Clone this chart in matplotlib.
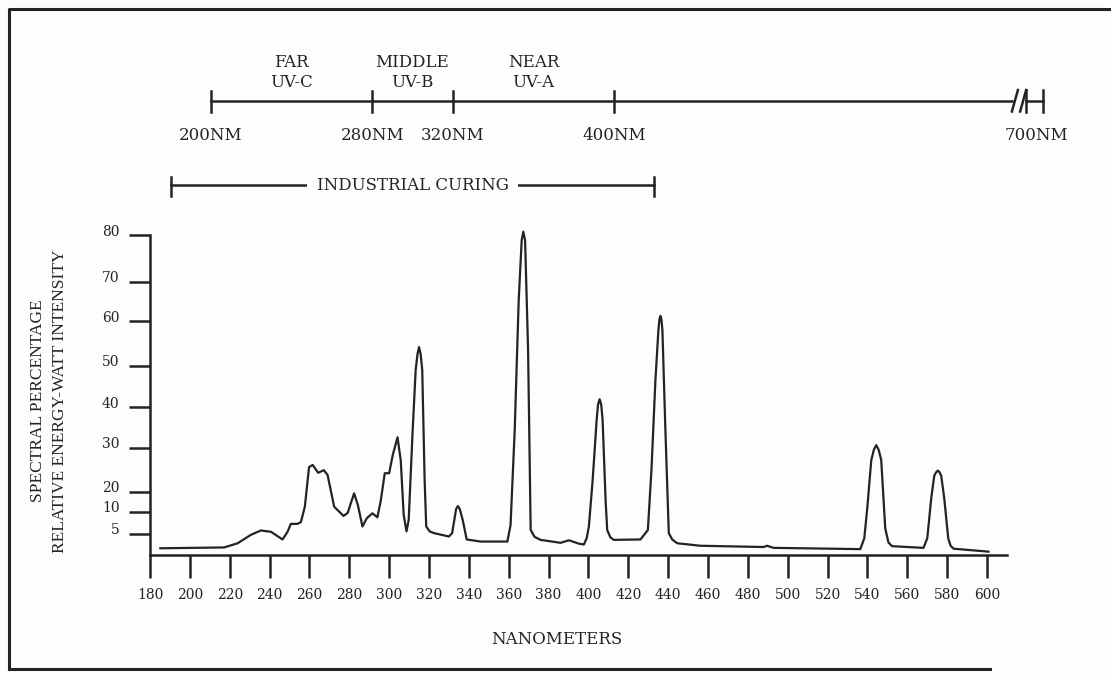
import numpy as np
import matplotlib
matplotlib.use('Agg')
import matplotlib.pyplot as plt
import matplotlib.transforms as mtransforms

# --- данные ---
# длина волны, нм
wl = [185.2, 217.2, 224.0, 230.6, 235.6, 240.7, 246.5, 249.0, 250.7, 254.0,
      255.7, 257.7, 259.8, 261.6, 264.4, 267.2, 269.1, 272.4, 277.1, 279.2,
      282.4, 284.3, 286.6, 288.8, 291.6, 294.1, 295.8, 297.8, 300.0, 301.8,
      304.2, 305.8, 307.3, 308.7, 309.8, 311.8, 313.3, 314.2, 315.0, 315.8,
      316.6, 317.8, 318.6, 320.3, 322.5, 330.0, 331.6, 333.6, 334.5, 335.4,
      336.9, 338.9, 345.9, 359.3, 360.9, 363.0, 365.0, 366.5, 367.3, 368.2,
      369.7, 371.0, 373.0, 376.0, 386.0, 390.2, 395.2, 397.7, 399.1, 400.2,
      402.1, 404.1, 404.8, 405.6, 406.4, 407.1, 408.6, 409.4, 411.0, 412.7,
      426.1, 429.8, 431.6, 433.6, 435.1, 435.6, 436.1, 436.6, 437.1, 438.6,
      440.3, 442.0, 444.5, 456.2, 487.9, 489.6, 492.9, 536.4, 538.4, 539.9,
      541.9, 543.2, 544.4, 545.6, 546.9, 548.9, 550.5, 552.3, 568.1, 570.0,
      572.0, 573.5, 574.4, 575.3, 576.2, 577.0, 578.5, 580.5, 581.7, 583.2,
      600.7]
# относительная интенсивность, %
intensity = [1.6, 1.8, 2.8, 4.8, 5.8, 5.5, 3.7, 5.5, 7.3, 7.3,
             7.7, 12.6, 25.6, 26.1, 24.3, 24.9, 23.8, 12.6, 9.1, 9.8,
             19.1, 13.4, 6.7, 8.6, 9.7, 8.8, 15.6, 24.2, 24.2, 28.4,
             32.6, 27.2, 9.3, 5.6, 8.2, 34.4, 49.0, 52.6, 54.2, 52.6,
             49.0, 22.6, 6.7, 5.6, 5.2, 4.4, 5.2, 11.5, 12.9, 11.5,
             8.2, 3.7, 3.2, 3.2, 7.0, 34.4, 65.4, 78.9, 80.7, 78.9,
             53.6, 5.9, 4.3, 3.6, 2.9, 3.5, 2.7, 2.5, 4.0, 6.7,
             22.6, 36.8, 40.6, 41.9, 40.6, 36.8, 15.6, 5.9, 4.2, 3.6,
             3.7, 5.9, 24.9, 46.6, 58.0, 60.4, 61.3, 60.4, 58.0, 34.4,
             5.2, 3.7, 2.8, 2.2, 1.9, 2.2, 1.7, 1.4, 4.0, 12.0,
             27.2, 29.6, 30.7, 29.6, 27.2, 6.3, 3.0, 2.1, 1.7, 4.0,
             16.8, 23.6, 24.4, 24.8, 24.4, 23.6, 16.8, 4.0, 2.2, 1.5,
             0.8]

x_ticks = list(range(180, 601, 20))
y_ticks = [5, 10, 20, 30, 40, 50, 60, 70, 80]

# неравномерная шкала оси Y (как на оригинале)
scale_vals = [0, 5, 10, 20, 30, 40, 50, 60, 70, 80, 100]
scale_pos = [0, 21, 43, 63.5, 107, 148, 189, 234, 273, 320, 414]

band_edges = [200, 280, 320, 400]
band_names = ["FAR\nUV-C", "MIDDLE\nUV-B", "NEAR\nUV-A"]
edge_labels = ["200NM", "280NM", "320NM", "400NM"]
curing = (180, 420)

ink = '#232323'
paper = '#fdfdfc'
serif = 'DejaVu Serif'


def fwd(v):
    return np.interp(v, scale_vals, scale_pos)


def inv(h):
    return np.interp(h, scale_pos, scale_vals)


fig = plt.figure(figsize=(11.11, 6.73), dpi=100, facecolor=paper)

ax = fig.add_axes([150 / 1111, 118 / 673, 857 / 1111, 329.4 / 673])
ax.set_facecolor('none')
ax.set_yscale('function', functions=(fwd, inv))
ax.plot(wl, intensity, color=ink, lw=1.6, clip_on=False,
        solid_joinstyle='round')
ax.set_xlim(180, 610)
ax.set_ylim(0, 82)

for s in ['top', 'right']:
    ax.spines[s].set_visible(False)
for s in ['left', 'bottom']:
    ax.spines[s].set_linewidth(1.8)
    ax.spines[s].set_color(ink)
ax.spines['left'].set_bounds(0, 80)

ax.set_xticks(x_ticks)
ax.set_yticks(y_ticks)
ax.set_yticklabels([str(v) for v in y_ticks])
ax.minorticks_off()
ax.tick_params(axis='x', direction='out', length=16.5, width=1.8, color=ink,
               pad=7, labelsize=10, labelcolor=ink)
ax.tick_params(axis='y', direction='out', length=15, width=1.8, color=ink,
               pad=7, labelsize=10, labelcolor=ink)
for lab in ax.get_xticklabels() + ax.get_yticklabels():
    lab.set_family(serif)
shift = mtransforms.ScaledTranslation(0, 0.05, fig.dpi_scale_trans)
for lab in ax.get_yticklabels():
    lab.set_transform(lab.get_transform() + shift)

ax.set_xlabel("NANOMETERS", family=serif, fontsize=12, color=ink, va='center')
ax.xaxis.set_label_coords(0.475, -0.258)
ax.set_ylabel("SPECTRAL PERCENTAGE\nRELATIVE ENERGY-WATT INTENSITY",
              family='Liberation Serif', fontsize=12.5, color=ink, va='center',
              linespacing=1.45)
ax.yaxis.set_label_coords(-0.1179, 0.4675)

# --- верхняя шкала УФ-диапазонов ---
top = fig.add_axes([0, 0, 1, 1])
top.set_facecolor('none')
top.axis('off')
top.set_xlim(95.3, 646.7)
top.set_ylim(673, 0)

y_line = 101
brk = 597.5
end700 = 612.9
top.plot([band_edges[0], brk], [y_line, y_line], color=ink, lw=1.8)
for e in band_edges:
    top.plot([e, e], [90.5, 111.5], color=ink, lw=1.8)
for e, lab in zip(band_edges, edge_labels):
    top.text(e, 136, lab, family=serif, fontsize=12, color=ink,
             ha='center', va='center')
for a, b, name in zip(band_edges[:-1], band_edges[1:], band_names):
    top.text((a + b) / 2, 72.5, name, family=serif, fontsize=12, color=ink,
             ha='center', va='center', linespacing=1.3)

# разрыв шкалы и отметка 700 нм
for dx in [0, 4.1]:
    top.plot([brk + dx, brk + dx + 3.0], [111.5, 90], color=ink, lw=1.8)
top.plot([brk + 7.2, end700], [y_line, y_line], color=ink, lw=1.8)
for e in [brk + 7.2, end700]:
    top.plot([e, e], [90, 112], color=ink, lw=1.8)
top.text(end700 - 3, 135, "700NM", family=serif, fontsize=12, color=ink,
         ha='center', va='center')

# промышленное отверждение
y_cur = 185
top.plot(list(curing), [y_cur, y_cur], color=ink, lw=1.8, zorder=2)
for e in curing:
    top.plot([e, e], [176.5, 196], color=ink, lw=1.8)
top.text(sum(curing) / 2, y_cur, "INDUSTRIAL CURING", family=serif,
         fontsize=12, color=ink, ha='center', va='center', zorder=3,
         bbox=dict(boxstyle='square,pad=0.6', fc=paper, ec='none'))

# рамка
frame = fig.add_axes([0, 0, 1, 1])
frame.set_facecolor('none')
frame.axis('off')
frame.set_xlim(0, 1111)
frame.set_ylim(673, 0)
frame.plot([8.5, 8.5, 1111], [669, 9, 9], color=ink, lw=2.2)
frame.plot([8.5, 990], [669, 669], color=ink, lw=2.2)

fig.savefig('out.png', dpi=100, facecolor=fig.get_facecolor())
